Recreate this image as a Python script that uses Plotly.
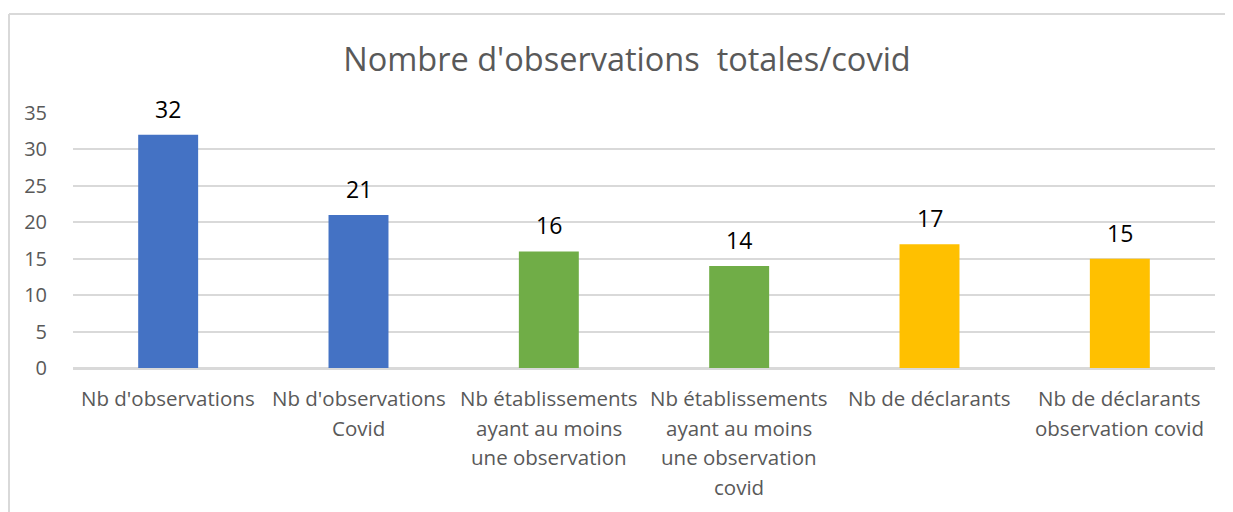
import plotly.graph_objects as go

categories = [
    "Nb d'observations",
    "Nb d'observations<br>Covid",
    "Nb établissements<br>ayant au moins<br>une observation",
    "Nb établissements<br>ayant au moins<br>une observation<br>covid",
    "Nb de déclarants",
    "Nb de déclarants<br>observation covid",
]
values = [32, 21, 16, 14, 17, 15]
colors = ["#4472C4", "#4472C4", "#70AD47", "#70AD47", "#FFC000", "#FFC000"]
title = "Nombre d'observations\u00a0 totales/covid"

# page has an 8px body margin, so the figure is sized to the remaining area
W, H = 1225, 504
ml, mr, mt, mb = 65, 18, 105, 144
pw, ph = W - ml - mr, H - mt - mb

font = "Open Sans, sans-serif"
grey = "#595959"

xs = list(range(len(categories)))

fig = go.Figure(go.Bar(
    x=xs, y=values,
    marker=dict(color=colors, line=dict(width=0)),
    width=0.315,
    hoverinfo="x+y",
))

# data labels
for x, v in zip(xs, values):
    fig.add_annotation(x=x, y=v, xref="x", yref="y", text=str(v),
                       showarrow=False, yanchor="middle", yshift=26,
                       font=dict(size=23, color="#000000", family=font))

# category labels, one annotation per line for Excel-like line spacing
for x, lab in zip(xs, categories):
    for k, line in enumerate(lab.split("<br>")):
        fig.add_annotation(x=x, y=0, xref="x", yref="paper", text=line,
                           showarrow=False, yanchor="middle",
                           yshift=-30 - 29.5 * k,
                           font=dict(size=20.5, color=grey, family=font))

# chart-area border (top and left edges visible)
fig.add_shape(type="line", xref="paper", yref="paper",
              x0=(1 - ml) / pw, x1=(W + 10 - ml) / pw,
              y0=(H - mb - 6) / ph, y1=(H - mb - 6) / ph,
              line=dict(color="#D9D9D9", width=2))
fig.add_shape(type="line", xref="paper", yref="paper",
              x0=(1 - ml) / pw, x1=(1 - ml) / pw,
              y0=(H - mb - 6) / ph, y1=(H - mb - H - 10) / ph,
              line=dict(color="#D9D9D9", width=2))

fig.update_layout(
    width=W, height=H,
    margin=dict(l=ml, r=mr, t=mt, b=mb),
    paper_bgcolor="white", plot_bgcolor="white",
    showlegend=False,
    title=dict(text=title, x=619 / W, xanchor="center", xref="container",
               y=1 - 52 / H, yanchor="middle",
               font=dict(size=32.5, color=grey, family=font)),
    font=dict(family=font, color=grey),
    xaxis=dict(tickmode="array", tickvals=xs, ticktext=[""] * len(xs),
               range=[-0.5, 5.5], showgrid=False,
               showline=True, linecolor="#D9D9D9", linewidth=1.5),
    yaxis=dict(range=[0, 35], dtick=5, tick0=0,
               tickfont=dict(size=20, color=grey, family=font),
               showgrid=True, gridcolor="#D9D9D9", gridwidth=1.5,
               zeroline=True, zerolinecolor="#D9D9D9", zerolinewidth=1.5,
               showline=False, ticks="outside", ticklen=21,
               tickcolor="rgba(0,0,0,0)"),
)

fig.write_html("out.html")
